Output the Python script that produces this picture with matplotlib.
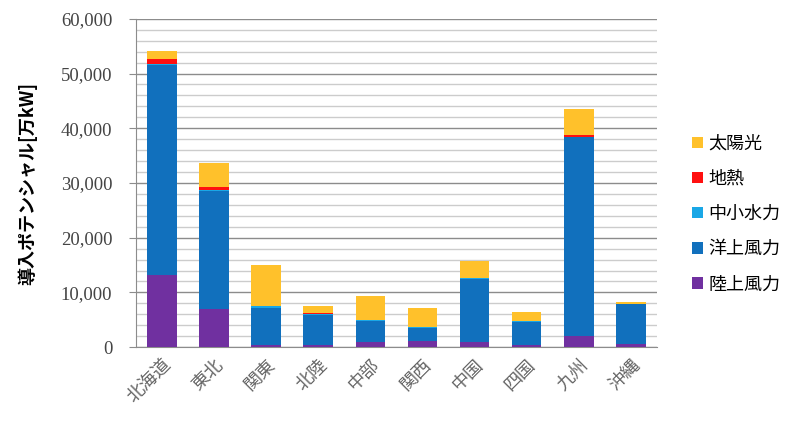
import numpy as np
import matplotlib.pyplot as plt
from matplotlib.ticker import MultipleLocator, FuncFormatter

plt.rcParams['font.family'] = ['Noto Sans CJK JP', 'DejaVu Sans']

# data (万kW)
regions = ['北海道', '東北', '関東', '北陸', '中部', '関西', '中国', '四国', '九州', '沖縄']
onshore = [13100, 6900, 300, 300, 850, 1100, 950, 300, 1950, 550]     # 陸上風力
offshore = [38400, 21600, 6900, 5500, 3900, 2450, 11500, 4350, 36500, 7400]  # 洋上風力
small_hydro = [300, 300, 250, 200, 200, 100, 100, 100, 0, 0]          # 中小水力
geothermal = [900, 500, 0, 300, 0, 0, 0, 0, 300, 0]                    # 地熱
solar = [1500, 4300, 7500, 1200, 4300, 3450, 3250, 1650, 4830, 230]    # 太陽光

series = [
    ('陸上風力', onshore, '#7030A0'),
    ('洋上風力', offshore, '#1170BD'),
    ('中小水力', small_hydro, '#1AA7E6'),
    ('地熱', geothermal, '#FF1010'),
    ('太陽光', solar, '#FFC12B'),
]

fig = plt.figure(figsize=(8, 4.28), dpi=100)
ax = fig.add_axes([0.17, 0.189, 0.651, 0.767])

x = np.arange(len(regions))
bottom = np.zeros(len(regions))
handles = []
for name, vals, col in series:
    b = ax.bar(x, vals, 0.57, bottom=bottom, color=col, label=name, zorder=3)
    bottom += np.array(vals)
    handles.append(b)

ax.set_xlim(-0.5, len(regions) - 0.5)
ax.set_ylim(0, 60000)
ax.yaxis.set_major_locator(MultipleLocator(10000))
ax.yaxis.set_minor_locator(MultipleLocator(2000))
ax.grid(axis='y', which='major', color='#8c8c8c', linewidth=1.0, zorder=0)
ax.grid(axis='y', which='minor', color='#cccccc', linewidth=1.0, zorder=0)
ax.yaxis.set_major_formatter(FuncFormatter(lambda v, p: f'{int(v):,}'))

for s in ['top', 'right']:
    ax.spines[s].set_visible(False)
for s in ['left', 'bottom']:
    ax.spines[s].set_color('#8c8c8c')
ax.tick_params(axis='y', which='major', length=5, pad=12, color='#8c8c8c', labelcolor='#444444')
ax.tick_params(axis='y', which='minor', length=0)
ax.tick_params(axis='x', length=0, pad=6, labelcolor='#666666')

for lab in ax.get_yticklabels():
    lab.set_family(['Liberation Serif', 'DejaVu Serif'])
    lab.set_fontsize(13.5)

ax.set_xticks(x)
ax.set_xticklabels(regions, rotation=45, ha='right', rotation_mode='anchor', fontsize=13)

ax.set_ylabel('導入ポテンシャル[万kW]', fontsize=13, fontweight='bold')
ax.yaxis.set_label_coords(-0.19, 0.5)

leg = fig.legend(handles[::-1], [s[0] for s in series][::-1], loc='center left',
                 bbox_to_anchor=(0.845, 0.5), frameon=False, fontsize=13,
                 handlelength=0.6, handleheight=0.6, handletextpad=0.3, labelspacing=0.95)

fig.savefig('out.png', dpi=100)
